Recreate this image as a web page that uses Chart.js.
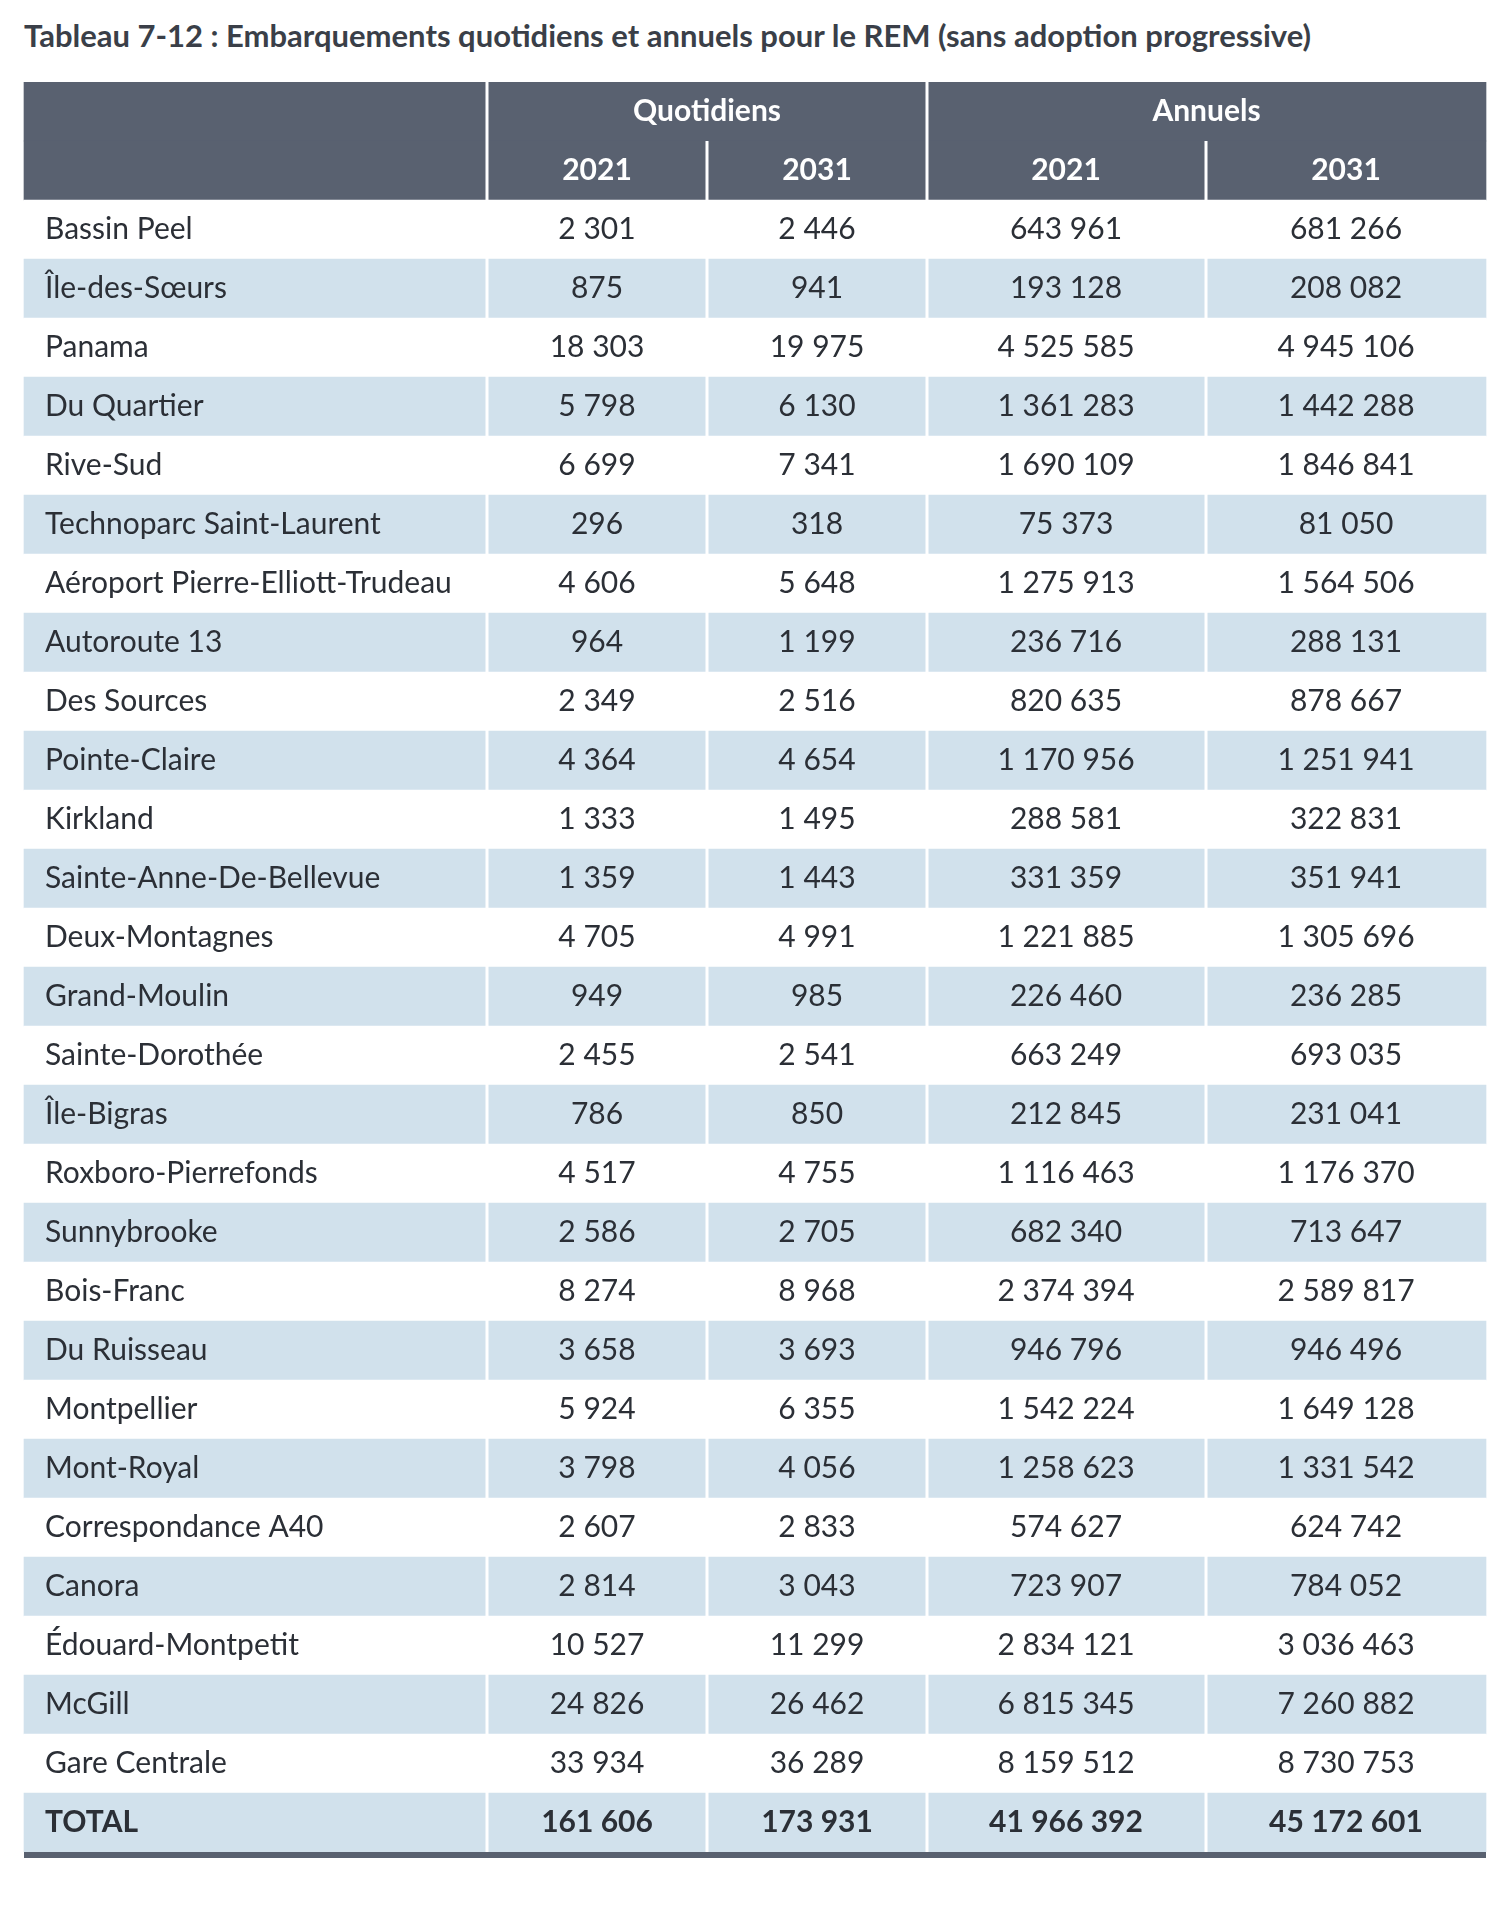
<!DOCTYPE html>
<html>
<head>
<meta charset="utf-8">
<script src="https://cdn.jsdelivr.net/npm/chart.js@4"></script>
<style>
  body { margin: 0; background: #fff; width: 1509px; height: 1905px; position: relative; font-family: Lato, "Open Sans", sans-serif; }
  #title { position: absolute; left: 24px; top: 16px; font-size: 31px; font-weight: bold; color: #3a3f48; }
  #wrap { position: absolute; left: 0; top: 0; width: 1509px; height: 1905px; }
</style>
</head>
<body>
<div id="title">Tableau 7-12 : Embarquements quotidiens et annuels pour le REM (sans adoption progressive)</div>
<div id="wrap"><canvas id="table" width="1509" height="1905"></canvas></div>
<script>
// data
const stations = ["Bassin Peel", "Île-des-Sœurs", "Panama", "Du Quartier", "Rive-Sud", "Technoparc Saint-Laurent",
  "Aéroport Pierre-Elliott-Trudeau", "Autoroute 13", "Des Sources", "Pointe-Claire", "Kirkland",
  "Sainte-Anne-De-Bellevue", "Deux-Montagnes", "Grand-Moulin", "Sainte-Dorothée", "Île-Bigras",
  "Roxboro-Pierrefonds", "Sunnybrooke", "Bois-Franc", "Du Ruisseau", "Montpellier", "Mont-Royal",
  "Correspondance A40", "Canora", "Édouard-Montpetit", "McGill", "Gare Centrale", "TOTAL"];
const daily2021 = [2301, 875, 18303, 5798, 6699, 296, 4606, 964, 2349, 4364, 1333, 1359, 4705, 949, 2455, 786,
  4517, 2586, 8274, 3658, 5924, 3798, 2607, 2814, 10527, 24826, 33934, 161606];
const daily2031 = [2446, 941, 19975, 6130, 7341, 318, 5648, 1199, 2516, 4654, 1495, 1443, 4991, 985, 2541, 850,
  4755, 2705, 8968, 3693, 6355, 4056, 2833, 3043, 11299, 26462, 36289, 173931];
const annual2021 = [643961, 193128, 4525585, 1361283, 1690109, 75373, 1275913, 236716, 820635, 1170956, 288581,
  331359, 1221885, 226460, 663249, 212845, 1116463, 682340, 2374394, 946796, 1542224, 1258623, 574627, 723907,
  2834121, 6815345, 8159512, 41966392];
const annual2031 = [681266, 208082, 4945106, 1442288, 1846841, 81050, 1564506, 288131, 878667, 1251941, 322831,
  351941, 1305696, 236285, 693035, 231041, 1176370, 713647, 2589817, 946496, 1649128, 1331542, 624742, 784052,
  3036463, 7260882, 8730753, 45172601];
const groupLabels = ["Quotidiens", "Annuels"];
const yearLabels = ["2021", "2031", "2021", "2031"];

// layout
const tableLeft = 24, tableRight = 1486;
const colEdges = [487, 707, 927, 1206];
const colCenters = [597, 817, 1066, 1346];
const headColor = "#596170";
const stripeColor = "#d1e1ec";
const bodyFont = "30px Lato, sans-serif";

const rows = ["h1", "h2"].concat(stations);
const rowColors = rows.map((r, i) => i < 2 ? headColor : ((i - 2) % 2 === 1 ? stripeColor : "#ffffff"));
const valueCols = [daily2021, daily2031, annual2021, annual2031];

function fmt(n) {
  return String(n).replace(/\B(?=(\d{3})+(?!\d))/g, " ");
}

const cellText = {
  id: "cellText",
  afterDatasetsDraw(chart) {
    const ctx = chart.ctx;
    const y = chart.scales.y;
    const rowH = Math.abs(y.getPixelForValue(1) - y.getPixelForValue(0));
    ctx.save();
    // white separators
    ctx.strokeStyle = "#ffffff";
    ctx.lineWidth = 3;
    colEdges.forEach((x, k) => {
      const startRow = (k === 0 || k === 2) ? 0 : 1;
      ctx.beginPath();
      ctx.moveTo(x, y.getPixelForValue(startRow) - rowH / 2);
      ctx.lineTo(x, y.getPixelForValue(rows.length - 1) + rowH / 2);
      ctx.stroke();
    });
    // header text
    ctx.fillStyle = "#ffffff";
    ctx.font = "bold " + bodyFont;
    ctx.textAlign = "center";
    ctx.textBaseline = "middle";
    ctx.fillText(groupLabels[0], (colEdges[0] + colEdges[2]) / 2, y.getPixelForValue(0));
    ctx.fillText(groupLabels[1], (colEdges[2] + tableRight) / 2, y.getPixelForValue(0));
    yearLabels.forEach((t, k) => ctx.fillText(t, colCenters[k], y.getPixelForValue(1)));
    // body
    ctx.fillStyle = "#2b2f36";
    stations.forEach((name, i) => {
      const py = y.getPixelForValue(i + 2);
      const bold = name === "TOTAL";
      ctx.font = (bold ? "bold " : "") + bodyFont;
      ctx.textAlign = "left";
      ctx.fillText(name, 45, py);
      ctx.textAlign = "center";
      valueCols.forEach((col, k) => ctx.fillText(fmt(col[i]), colCenters[k], py));
    });
    // bottom rule
    const bottom = y.getPixelForValue(rows.length - 1) + rowH / 2;
    ctx.fillStyle = headColor;
    ctx.fillRect(tableLeft, bottom, tableRight - tableLeft, 6);
    ctx.restore();
  }
};

new Chart(document.getElementById("table"), {
  type: "bar",
  data: {
    labels: rows,
    datasets: [{
      data: rows.map(() => [tableLeft, tableRight]),
      backgroundColor: rowColors,
      barPercentage: 1,
      categoryPercentage: 1,
      borderWidth: 0
    }]
  },
  options: {
    indexAxis: "y",
    responsive: false,
    animation: false,
    devicePixelRatio: 1,
    layout: { padding: { top: 82, bottom: 53, left: 0, right: 0 } },
    plugins: { legend: { display: false }, tooltip: { enabled: false } },
    scales: {
      x: { type: "linear", min: 0, max: 1509, display: false },
      y: { type: "category", display: false, offset: true }
    }
  },
  plugins: [cellText]
});
</script>
</body>
</html>
